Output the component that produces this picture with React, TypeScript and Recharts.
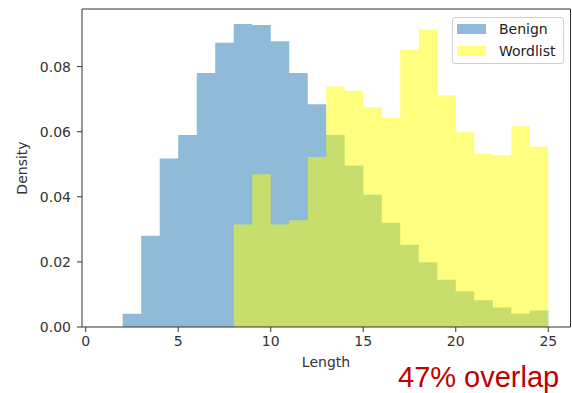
import React from "react";
import {
  ComposedChart,
  Area,
  XAxis,
  YAxis,
  ReferenceArea,
  Legend,
} from "recharts";

// Histogram of string lengths, density-normalised, unit-width bins.
const benignBinStarts = [2, 3, 4, 5, 6, 7, 8, 9, 10, 11, 12, 13, 14, 15, 16, 17, 18, 19, 20, 21, 22, 23, 24];
const benignDensity = [
  0.0041, 0.028, 0.0518, 0.059, 0.078, 0.0873, 0.0931, 0.0928, 0.0878, 0.078, 0.0684, 0.059,
  0.0496, 0.0406, 0.032, 0.0253, 0.0199, 0.0145, 0.011, 0.0082, 0.006, 0.0041, 0.0051,
];

const wordlistBinStarts = [8, 9, 10, 11, 12, 13, 14, 15, 16, 17, 18, 19, 20, 21, 22, 23, 24];
const wordlistDensity = [
  0.0315, 0.0469, 0.0315, 0.0328, 0.0522, 0.0739, 0.0726, 0.0675, 0.0643, 0.0851, 0.0913,
  0.0712, 0.0598, 0.0532, 0.0528, 0.0617, 0.0554,
];

const lastEdge = 25;
const xTicks = [0, 5, 10, 15, 20, 25];
const yTicks = [0, 0.02, 0.04, 0.06, 0.08];
const xDomain: [number, number] = [-0.2, 26.2];
const yDomain: [number, number] = [0, 0.0977];

const seriesNames = { benign: "Benign", wordlist: "Wordlist" };
const overlapNote = "47% overlap";

// Step table: each row is a bin's left edge; the closing edge drops to zero.
const edges = [...benignBinStarts, lastEdge];
const rows = edges.map((x) => {
  const bi = benignBinStarts.indexOf(x);
  const wi = wordlistBinStarts.indexOf(x);
  return {
    length: x,
    benign: bi >= 0 ? benignDensity[bi] : 0,
    wordlist: wi >= 0 ? wordlistDensity[wi] : x === lastEdge ? 0 : null,
  };
});

const BLUE = "#1f77b4";
const YELLOW = "#ffff00";
const INK = "#333333";
const FONT = "'DejaVu Sans', sans-serif";

const LegendBox = () => {
  const items = [
    { name: seriesNames.benign, color: BLUE },
    { name: seriesNames.wordlist, color: YELLOW },
  ];
  return (
    <div
      style={{
        width: 110,
        height: 45,
        border: "1px solid #d0d0d0",
        borderRadius: 3,
        background: "rgba(255,255,255,0.8)",
        fontFamily: FONT,
        fontSize: 14,
        color: "#222",
        boxSizing: "content-box",
        position: "relative",
      }}
    >
      {items.map((it, i) => (
        <div key={it.name} style={{ position: "absolute", left: 0, top: 1 + i * 22, height: 20, width: 110 }}>
          <div
            style={{
              position: "absolute",
              left: 4,
              top: 5,
              width: 29,
              height: 10,
              background: it.color,
              opacity: 0.5,
            }}
          />
          <span style={{ position: "absolute", left: 46, top: 0, lineHeight: "20px" }}>{it.name}</span>
        </div>
      ))}
    </div>
  );
};

export default function App() {
  return (
    <div style={{ position: "absolute", left: 0, top: 0, width: 572, height: 393, background: "#fff" }}>
      <ComposedChart
        width={572}
        height={393}
        data={rows}
        margin={{ top: 9, right: 1.5, left: 0, bottom: 0 }}
      >
        <XAxis
          dataKey="length"
          type="number"
          domain={xDomain}
          ticks={xTicks}
          allowDataOverflow
          height={66}
          axisLine={false}
          tickLine={{ stroke: INK }}
          tickSize={5}
          tickMargin={4}
          tick={{ fill: INK, fontSize: 14, fontFamily: FONT }}
        />
        <YAxis
          type="number"
          domain={yDomain}
          ticks={yTicks}
          allowDataOverflow
          width={82}
          axisLine={false}
          tickLine={{ stroke: INK }}
          tickSize={5}
          tickMargin={6}
          tickFormatter={(v: number) => v.toFixed(2)}
          tick={{ fill: INK, fontSize: 14, fontFamily: FONT }}
        />
        <Area
          dataKey="benign"
          type="stepAfter"
          stroke="none"
          fill={BLUE}
          fillOpacity={0.5}
          dot={false}
          activeDot={false}
          isAnimationActive={false}
        />
        <Area
          dataKey="wordlist"
          type="stepAfter"
          stroke="none"
          fill={YELLOW}
          fillOpacity={0.5}
          dot={false}
          activeDot={false}
          isAnimationActive={false}
        />
        <ReferenceArea
          x1={xDomain[0]}
          x2={xDomain[1]}
          y1={yDomain[0]}
          y2={yDomain[1]}
          fill="none"
          fillOpacity={0}
          stroke={INK}
          strokeWidth={1}
          ifOverflow="visible"
        />
        <Legend
          layout="vertical"
          align="center"
          verticalAlign="middle"
          content={() => <LegendBox />}
          wrapperStyle={{ left: 452, top: 17, width: 112 }}
        />
      </ComposedChart>
      <svg
        width={572}
        height={393}
        style={{ position: "absolute", left: 0, top: 0, pointerEvents: "none" }}
      >
        <text
          x={27}
          y={168}
          textAnchor="middle"
          transform="rotate(-90 27 168)"
          fontFamily={FONT}
          fontSize={14}
          fill={INK}
        >
          Density
        </text>
        <text x={326} y={367} textAnchor="middle" fontFamily={FONT} fontSize={14} fill={INK}>
          Length
        </text>
        <text x={398} y={387} fontFamily="'Liberation Sans', Arial, sans-serif" fontSize={29} fill="#c00000">
          {overlapNote}
        </text>
      </svg>
    </div>
  );
}
